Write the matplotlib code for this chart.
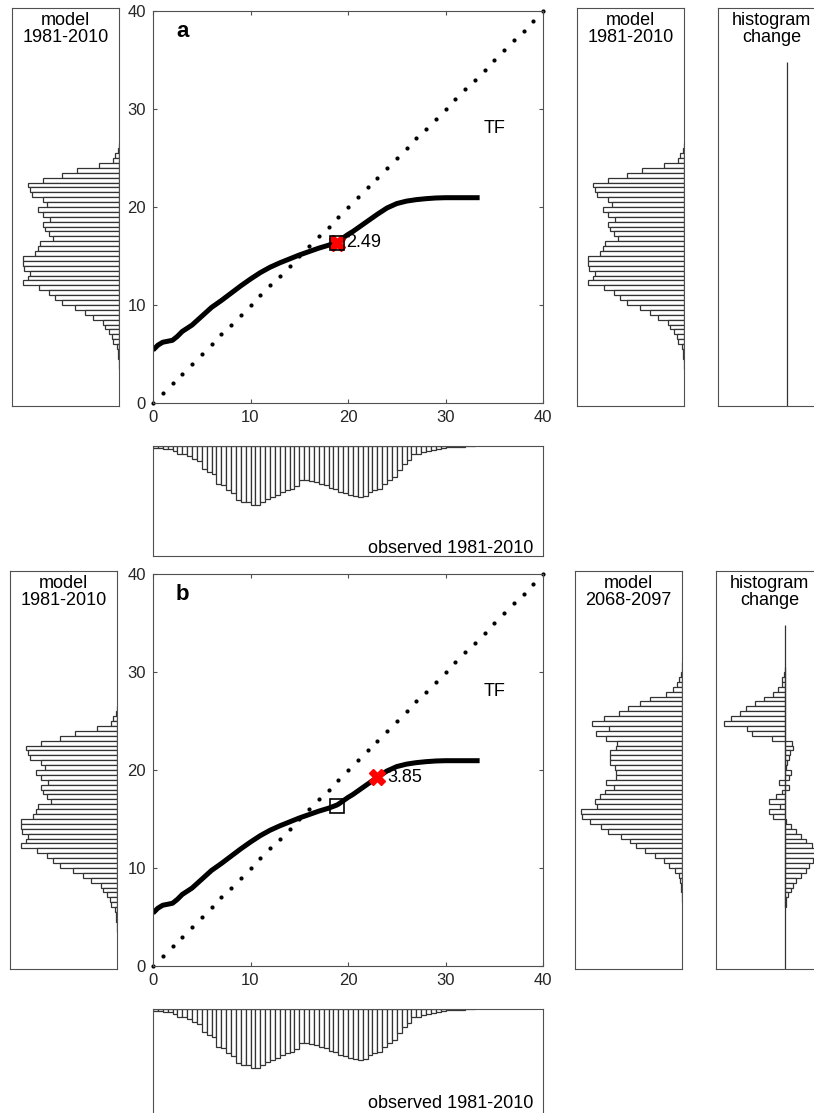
import numpy as np
import matplotlib
matplotlib.use("Agg")
import matplotlib.pyplot as plt

plt.rcParams['font.family'] = ['Liberation Sans', 'DejaVu Sans']

# ---- data ----
# transfer function (observed -> model)
tf_obs = [0, 0.5, 1, 1.5, 2, 2.5, 3, 4, 5, 6, 7, 8, 9, 10, 11, 12, 13, 14, 15, 16, 17,
          18, 18.8, 19, 20, 20.5, 21, 22, 23, 24, 25, 26, 27, 28, 29, 30, 33.5]
tf_mod = [5.4, 5.9, 6.2, 6.3, 6.4, 6.8, 7.3, 7.95, 8.85, 9.75, 10.45, 11.2, 11.95, 12.65,
          13.3, 13.85, 14.3, 14.7, 15.1, 15.45, 15.8, 16.1, 16.4, 16.5, 17.2, 17.5, 17.85,
          18.55, 19.25, 19.9, 20.35, 20.6, 20.75, 20.85, 20.92, 20.95, 20.95]
one_to_one = list(range(0, 41))

# model 1981-2010 histogram (bin upper edges, bar length in px)
past_upper = [26.5, 26, 25.5, 25, 24.5, 24, 23.5, 23, 22.5, 22, 21.5, 21, 20.5, 20, 19.5,
              19, 18.5, 18, 17.5, 17, 16.5, 16, 15.5, 15, 14.5, 14, 13.5, 13, 12.5, 12,
              11.5, 11, 10.5, 10, 9.5, 9, 8.5, 8, 7.5, 7, 6.5, 6, 5.5, 5, 4.5, 4]
past_count = [0.3, 0.7, 4, 5.7, 19.7, 42, 57, 76, 91, 89, 87, 76, 72, 81, 76,
              69, 76, 74, 70, 66, 79, 81, 84, 96, 96, 95, 89, 91, 96, 80,
              70, 64, 57, 44, 34, 26, 16, 14, 10, 7.3, 5.7, 2.3, 1.3, 0.7, 0.4, 0.2]

# model 2068-2097 histogram
fut_upper = [31, 30.5, 30, 29.5, 29, 28.5, 28, 27.5, 27, 26.5, 26, 25.5, 25, 24.5, 24,
             23.5, 23, 22.5, 22, 21.5, 21, 20.5, 20, 19.5, 19, 18.5, 18, 17.5, 17, 16.5,
             16, 15.5, 15, 14.5, 14, 13.5, 13, 12.5, 12, 11.5, 11, 10.5, 10, 9.5, 9,
             8.5, 8, 7.5, 7]
fut_count = [0.2, 0.5, 1, 3, 5, 9, 16.3, 32.3, 41.7, 54, 63, 78, 89.7, 73, 86.3,
             75.7, 64.7, 66.3, 72.3, 71.7, 71.7, 67.3, 65.7, 65.7, 75.7, 68.3, 77.3, 82.3, 87.3, 85,
             100.7, 99.7, 92.3, 81.3, 74, 60.7, 52.3, 46.3, 37.3, 27.3, 18, 13, 7, 3, 1.7,
             1.3, 0.7, 0.3, 0.2]

# histogram change (2068-2097 minus 1981-2010)
chg_upper = [30.5, 30, 29.5, 29, 28.5, 28, 27.5, 27, 26.5, 26, 25.5, 25, 24.5, 24, 23.5,
             23, 22.5, 22, 21.5, 21, 20.5, 20, 19.5, 19, 18.5, 18, 17.5, 17, 16.5, 16,
             15.5, 15, 14.5, 14, 13.5, 13, 12.5, 12, 11.5, 11, 10.5, 10, 9.5, 9, 8.5,
             8, 7.5, 7, 6.5]
chg_count = [0.5, 1, 2.7, 2.7, 6.7, 12, 21, 30, 39, 45, 53.7, 61, 37.7, 32.7, 13.3,
             -7.3, -8, -4.7, -4, -2.3, -0.7, -5.7, -4, 6, -4, 2.7, 9.3, 16, 5.3, 16,
             12, -0.7, -5.7, -10.7, -15.7, -20.7, -27.3, -30, -31, -28, -24, -20.7, -15.7, -10.7, -8,
             -5.7, -3.3, -1.3, -0.7]
chg_range = (-0.3, 34.75)

# observed 1981-2010 histogram (bin lower edges, bar depth in px)
obs_lower = list(np.arange(0, 33, 0.5))
obs_count = [1.7, 1.7, 2.7, 2.7, 5, 7.7, 8.3, 10, 12.7, 15, 22.7, 26, 27.7, 37.7, 39.3,
             44.3, 46.7, 54.3, 56, 56, 59.3, 59.3, 56, 53.3, 51, 49.3, 46, 43.7, 42.7, 40.3,
             34.3, 33.7, 35, 36, 37.7, 39.3, 41.7, 42.7, 46, 46.7, 49.3, 50.3, 51, 50.3, 46,
             44.3, 42.7, 37.7, 34.3, 31, 24.3, 17.7, 14.3, 8.3, 7.7, 6, 5, 4.3, 2.7, 1.7,
             1, 1, 0.7, 0.5, 0.3, 0.2]

panels = {
    'a': dict(mean=(18.85, 16.35), shifted=(18.85, 16.35), label='2.49',
              right_title='model\n1981-2010', right_upper=past_upper, right_count=past_count,
              chg=None),
    'b': dict(mean=(18.85, 16.35), shifted=(23.0, 19.25), label='3.85',
              right_title='model\n2068-2097', right_upper=fut_upper, right_count=fut_count,
              chg=(chg_upper, chg_count)),
}

W, H = 814, 1113
fig = plt.figure(figsize=(W / 100, H / 100), dpi=100)
EC = '#333333'


def add_ax(x0, y0, x1, y1):
    return fig.add_axes([x0 / W, 1 - y1 / H, (x1 - x0) / W, (y1 - y0) / H])


def frame(ax):
    for s in ax.spines.values():
        s.set_color('#505050')
        s.set_linewidth(0.8)


def hist_ax(ax, upper, count, title, lo, hi):
    centers = np.array(upper) - 0.25
    ax.barh(centers, count, height=0.5, color='white', edgecolor=EC, linewidth=0.9)
    ax.set_xlim(107, 0)
    ax.set_ylim(lo, hi)
    ax.set_xticks([])
    ax.set_yticks([])
    frame(ax)
    ax.text(0.5, 0.99, title, transform=ax.transAxes, ha='center', va='top',
            fontsize=13, linespacing=1.0)


for name, dy in (('a', 0), ('b', 563)):
    p = panels[name]
    sx = 2 if dy else 0
    # main axes
    ax = add_ax(153, 11 + dy, 543, 403 + dy)
    ax.plot(one_to_one, one_to_one, linestyle='none', marker='o', markersize=2,
            color='black', clip_on=False)
    ax.plot(tf_obs, tf_mod, color='black', linewidth=3.6, solid_capstyle='butt')
    ax.plot(*p['shifted'], marker='X', markersize=11, color='red', markeredgecolor='red',
            linestyle='none', zorder=5)
    ax.plot(*p['mean'], marker='s', markersize=10, markerfacecolor='none',
            markeredgecolor='black', markeredgewidth=1.2, linestyle='none', zorder=6)
    ax.text(p['shifted'][0] + 1.0, p['shifted'][1], p['label'], fontsize=13,
            ha='left', va='center', zorder=7)
    ax.text(3.0, 37.9, name, fontsize=16, fontweight='bold', ha='center', va='center')
    ax.text(35.0, 28.0, 'TF', fontsize=13, ha='center', va='center')
    ax.set_xlim(0, 40)
    ax.set_ylim(0, 40)
    ax.set_xticks([0, 10, 20, 30, 40])
    ax.set_yticks([0, 10, 20, 30, 40])
    ax.tick_params(direction='in', length=3, width=0.8, top=True, right=True,
                   labelsize=12, colors='#505050', labelcolor='#262626', pad=5)
    frame(ax)

    lo = -0.31
    hi = 40.31
    # left histogram: model 1981-2010
    hax = add_ax(12 - sx, 8 + dy, 119 - sx, 406 + dy)
    hist_ax(hax, past_upper, past_count, 'model\n1981-2010', lo, hi)

    # right histogram
    rax = add_ax(577 - sx, 8 + dy, 684 - sx, 406 + dy)
    hist_ax(rax, p['right_upper'], p['right_count'], p['right_title'], lo, hi)

    # histogram change
    cax = add_ax(718 - sx, 8 + dy, 825 - sx, 406 + dy)
    cax.vlines(0, chg_range[0], chg_range[1], color=EC, linewidth=0.9)
    if p['chg'] is not None:
        cu, cc = p['chg']
        cax.barh(np.array(cu) - 0.25, cc, height=0.5, color='white', edgecolor=EC,
                 linewidth=0.9)
    cax.set_xlim(69, -38)
    cax.set_ylim(lo, hi)
    cax.set_xticks([])
    cax.set_yticks([])
    frame(cax)
    cax.text(0.5, 0.99, 'histogram\nchange', transform=cax.transAxes, ha='center',
             va='top', fontsize=13, linespacing=1.0)

    # bottom histogram: observed
    bax = add_ax(153, 446 + dy, 543, 556 + dy)
    bax.bar(np.array(obs_lower) + 0.25, obs_count, width=0.5, color='white',
            edgecolor=EC, linewidth=0.9)
    bax.set_xlim(0, 40)
    bax.set_ylim(110, 0)
    bax.set_xticks([])
    bax.set_yticks([])
    frame(bax)
    bax.text(0.975, 0.03 if not dy else 0.1, 'observed 1981-2010', transform=bax.transAxes,
             ha='right', va='baseline', fontsize=13)

fig.savefig('out.png', dpi=100)
